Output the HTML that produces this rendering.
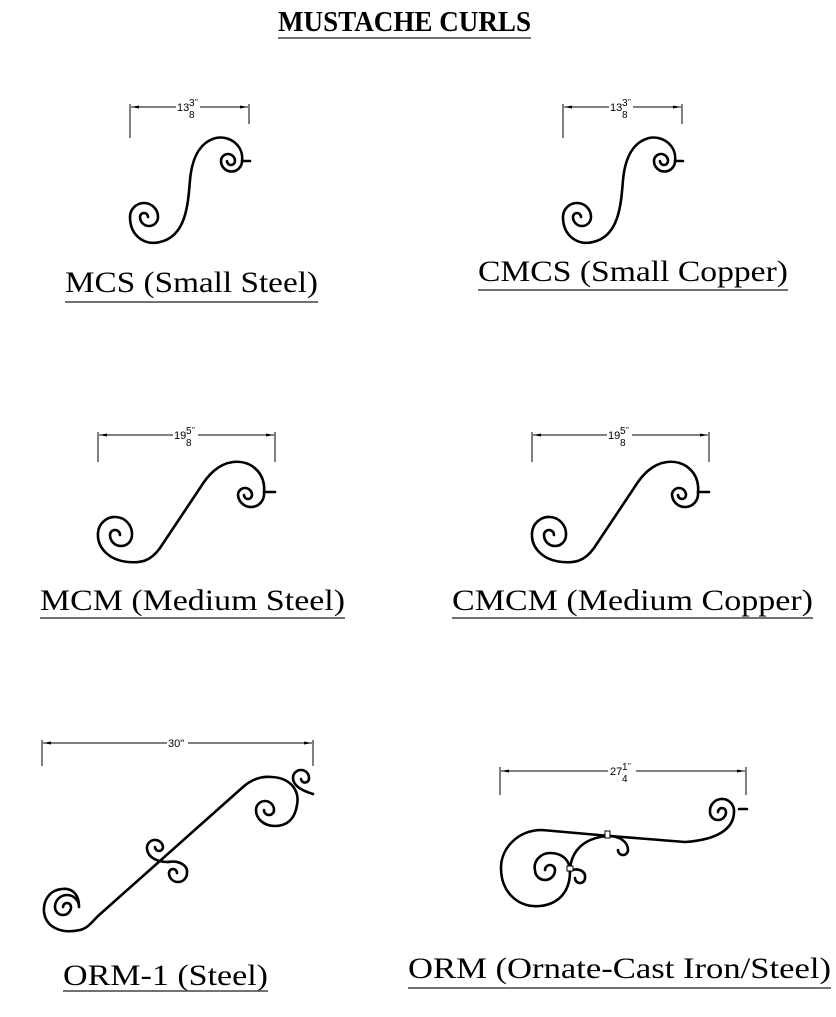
<!DOCTYPE html>
<html><head><meta charset="utf-8"><style>
html,body{margin:0;padding:0;background:#fff;}
svg{display:block;}
.t{font-family:"Liberation Serif",serif;font-size:30px;fill:#000;}
.u{stroke:#444;stroke-width:1.5;}
.d{stroke:#000;stroke-width:1;fill:none;}
.dt{font-family:"Liberation Sans",sans-serif;font-size:11px;fill:#000;}
.c{stroke:#000;stroke-width:2.6;fill:none;stroke-linecap:round;stroke-linejoin:round;}
</style></head><body>
<svg width="836" height="1017" viewBox="0 0 836 1017" xmlns="http://www.w3.org/2000/svg">
<defs>
<marker id="ar" markerWidth="8" markerHeight="6" refX="8" refY="3" orient="auto"><path d="M0,1.5 L8,3 L0,4.5" fill="#000"/></marker>
<marker id="al" markerWidth="8" markerHeight="6" refX="0" refY="3" orient="auto"><path d="M8,1.5 L0,3 L8,4.5" fill="#000"/></marker>
</defs>

<text x="278" y="31" class="t" style="font-size:28px;font-weight:bold" textLength="253" lengthAdjust="spacingAndGlyphs">MUSTACHE CURLS</text>
<line x1="278" y1="38" x2="531" y2="38" class="u"/>

<!-- MCS -->
<g id="mcs">
<line x1="130" y1="104" x2="130" y2="138" class="d"/>
<line x1="249" y1="104" x2="249" y2="124" class="d"/>
<line x1="131" y1="107" x2="176" y2="107" class="d" marker-start="url(#al)"/>
<line x1="200" y1="107" x2="248" y2="107" class="d" marker-end="url(#ar)"/>
<text x="177" y="111" class="dt">13</text>
<text x="189" y="106" class="dt" style="font-size:10px">3</text>
<text x="189" y="118" class="dt" style="font-size:10px">8</text>
<text x="195" y="105" class="dt" style="font-size:8px">"</text>
<path class="c" d="M227,161 A4,4 0 0 0 235,161 A7,7 0 0 0 221,161 A10.5,10.5 0 0 0 242,161 C244,146 230,135 216,138 C200,142 192,158 190,180 C188,205 186,236 160,242 C145,246 130,236 130,217 A14,14 0 0 1 158,217 A9,9 0 0 1 140,217 A4,4 0 0 1 148,217"/>
<line x1="243" y1="161" x2="250" y2="161" class="c"/>
</g>
<text x="65" y="292" class="t" textLength="253" lengthAdjust="spacingAndGlyphs">MCS (Small Steel)</text>
<line x1="65" y1="302" x2="318" y2="302" class="u"/>

<use href="#mcs" transform="translate(433,0)"/>
<text x="478" y="281" class="t" textLength="310" lengthAdjust="spacingAndGlyphs">CMCS (Small Copper)</text>
<line x1="478" y1="290" x2="788" y2="290" class="u"/>

<!-- MCM -->
<g id="mcm">
<line x1="98" y1="432" x2="98" y2="462" class="d"/>
<line x1="275" y1="432" x2="275" y2="462" class="d"/>
<line x1="99" y1="435" x2="173" y2="435" class="d" marker-start="url(#al)"/>
<line x1="198" y1="435" x2="274" y2="435" class="d" marker-end="url(#ar)"/>
<text x="174" y="439" class="dt">19</text>
<text x="186" y="434" class="dt" style="font-size:10px">5</text>
<text x="186" y="446" class="dt" style="font-size:10px">8</text>
<text x="192" y="433" class="dt" style="font-size:8px">"</text>
<path class="c" d="M244,495 A4,4 0 0 0 252,495 A7,7 0 0 0 238,495 A13,13 0 0 0 264,493 C266,472 250,460 233,462 C218,464 208,475 200,488 L160,548 C150,562 140,563 128,562 C108,560 97,547 98,533 A17,17 0 0 1 132,535 A11,11 0 0 1 110,535 A5,5 0 0 1 120,535"/>
<line x1="264" y1="492" x2="275" y2="492" class="c"/>
</g>
<text x="40" y="610" class="t" textLength="305" lengthAdjust="spacingAndGlyphs">MCM (Medium Steel)</text>
<line x1="40" y1="618" x2="345" y2="618" class="u"/>

<use href="#mcm" transform="translate(434,0)"/>
<text x="452" y="610" class="t" textLength="361" lengthAdjust="spacingAndGlyphs">CMCM (Medium Copper)</text>
<line x1="452" y1="618" x2="813" y2="618" class="u"/>

<!-- ORM-1 -->
<line x1="42" y1="740" x2="42" y2="766" class="d"/>
<line x1="313" y1="740" x2="313" y2="766" class="d"/>
<line x1="43" y1="743" x2="167" y2="743" class="d" marker-start="url(#al)"/>
<line x1="188" y1="743" x2="312" y2="743" class="d" marker-end="url(#ar)"/>
<text x="168" y="747" class="dt">30"</text>
<path class="c" d="M63,907 A4,4 0 0 1 71,907 A8,8 0 0 1 55,907 A12,12 0 0 1 79,907 C79,892 70,888 62,889 C50,890 43,900 44,912 C46,928 62,934 80,930 C88,928 92,922 98,916 L243,787 C252,779 262,776 272,777 C290,778 300,790 297,805 C295,818 288,826 275,826 C263,826 256,818 256,810 A9,9 0 0 1 274,810 A5,5 0 0 1 264,810"/>
<path class="c" d="M313,794 C303,791 293,786 293,778 A8,8 0 0 1 309,778 A4,4 0 0 1 301,779"/>
<path class="c" d="M168,862 C158,862 148,858 147,849 A8,8 0 0 1 163,847 A4,4 0 0 1 155,847"/>
<path class="c" d="M168,862 C180,860 188,866 187,873 A9,9 0 0 1 169,873 A4,4 0 0 1 177,873"/>
<text x="63" y="985" class="t" textLength="205" lengthAdjust="spacingAndGlyphs">ORM-1 (Steel)</text>
<line x1="63" y1="991" x2="268" y2="991" class="u"/>

<!-- ORM -->
<line x1="500" y1="767" x2="500" y2="795" class="d"/>
<line x1="746" y1="767" x2="746" y2="795" class="d"/>
<line x1="501" y1="771" x2="608" y2="771" class="d" marker-start="url(#al)"/>
<line x1="636" y1="771" x2="745" y2="771" class="d" marker-end="url(#ar)"/>
<text x="610" y="775" class="dt">27</text>
<text x="622" y="770" class="dt" style="font-size:10px">1</text>
<text x="622" y="782" class="dt" style="font-size:10px">4</text>
<text x="628" y="769" class="dt" style="font-size:8px">"</text>
<path class="c" d="M718,812 A4,4 0 0 1 726,812 A8,8 0 0 1 710,812 A12,12 0 0 1 734,810 C735,830 715,840 685,842 L610,836 L542,830 C518,830 501,848 501,868 C501,892 518,908 540,906 C560,904 570,890 570,872 C570,858 560,853 550,853 C540,853 533,862 535,870 A10,10 0 0 0 555,870 A5,5 0 0 0 545,870"/>
<path class="c" d="M570,872 C570,855 580,838 608,836"/>
<path class="c" d="M608,836 C620,836 628,842 628,850 A5,5 0 0 1 618,850"/>
<path class="c" d="M572,870 C580,868 586,872 585,878 A5,5 0 0 1 575,878"/>
<line x1="739" y1="809" x2="747" y2="809" class="c"/>
<rect x="605" y="831" width="5" height="7" fill="#fff" stroke="#000" stroke-width="1"/>
<rect x="567" y="866" width="6" height="5" fill="#fff" stroke="#000" stroke-width="1"/>
<text x="408" y="978" class="t" textLength="423" lengthAdjust="spacingAndGlyphs">ORM (Ornate-Cast Iron/Steel)</text>
<line x1="408" y1="988" x2="831" y2="988" class="u"/>
</svg>
</body></html>
